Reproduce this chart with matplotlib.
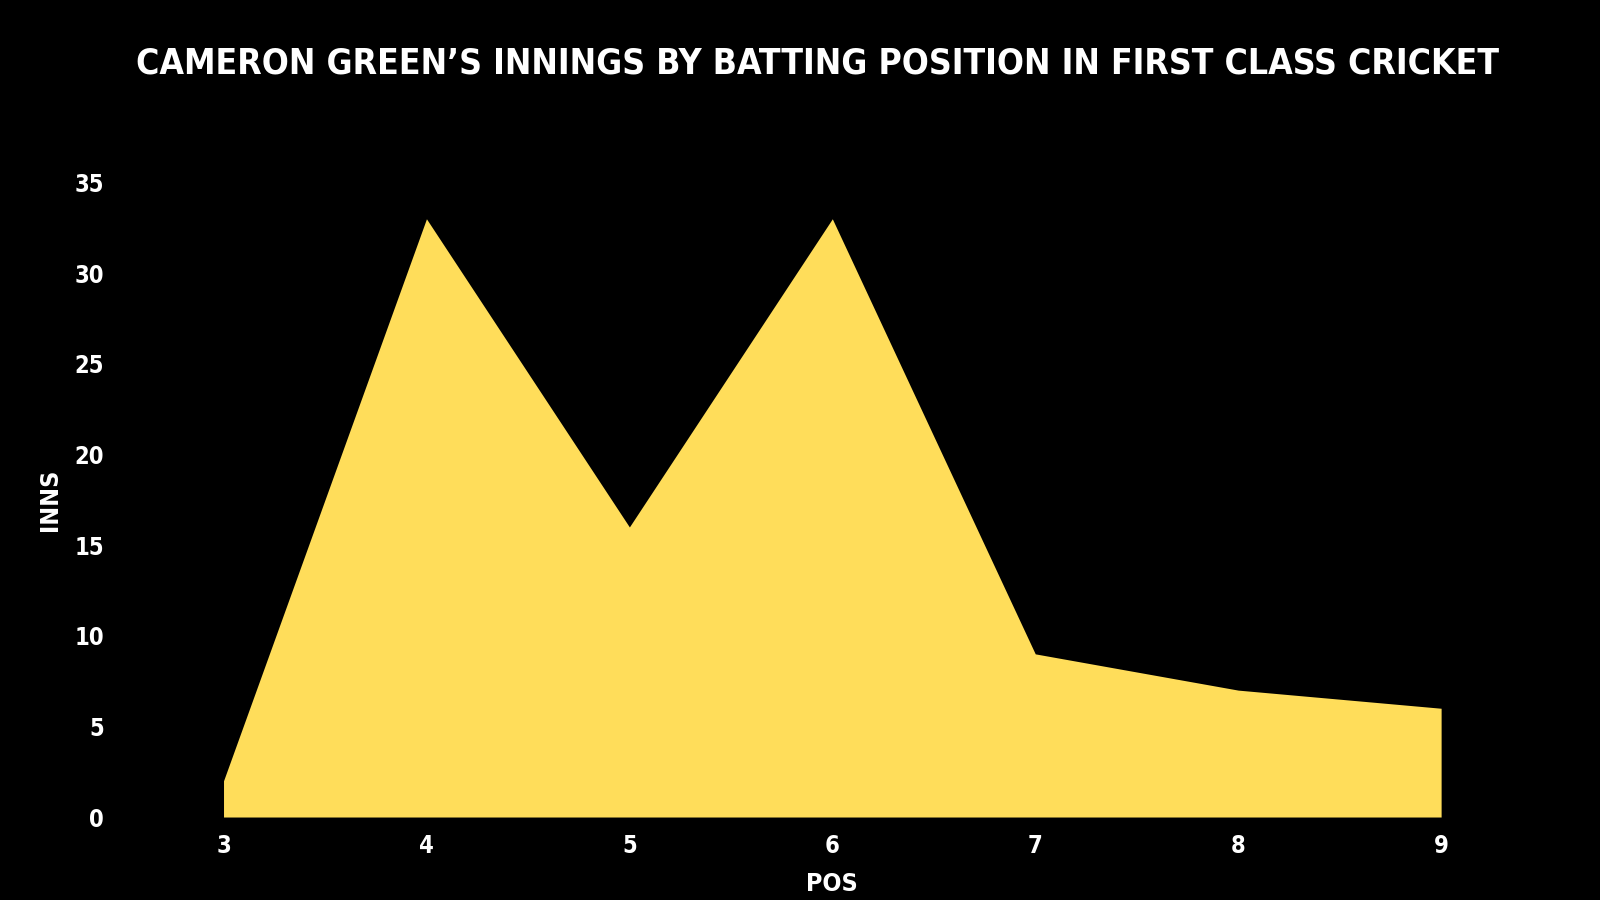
import matplotlib
matplotlib.use("Agg")
import matplotlib.pyplot as plt

# batting position vs innings
positions = [3, 4, 5, 6, 7, 8, 9]
innings = [2, 33, 16, 33, 9, 7, 6]
y_ticks = [0, 5, 10, 15, 20, 25, 30, 35]

title = "CAMERON GREEN\u2019S INNINGS BY BATTING POSITION IN FIRST CLASS CRICKET"
fill_colour = "#FFDD5A"

plt.rcParams['font.family'] = ['DejaVu Sans']
plt.rcParams['font.stretch'] = 'condensed'
plt.rcParams['font.weight'] = 'bold'

fig = plt.figure(figsize=(16, 9), dpi=100, facecolor='black')
ax = fig.add_axes([0.1397, 0.0922, 0.761, 0.705])
ax.set_facecolor('black')

ax.fill_between(positions, innings, 0, color=fill_colour, linewidth=0)

ax.set_xlim(positions[0], positions[-1])
ax.set_ylim(0, 35)
ax.set_xticks(positions)
ax.set_yticks(y_ticks)
ax.tick_params(colors='white', labelsize=17, length=0)
ax.tick_params(axis='x', pad=12)
ax.tick_params(axis='y', pad=86)
for lab in ax.get_xticklabels() + ax.get_yticklabels():
    lab.set_fontweight('bold')
for s in ax.spines.values():
    s.set_visible(False)

ax.set_xlabel('POS', color='white', fontsize=18, fontweight='bold', labelpad=10)
ax.set_ylabel('INNS', color='white', fontsize=18, fontweight='bold')
ax.yaxis.set_label_coords(-0.133, 0.5)

fig.text(0.511, 0.929, title, color='white', fontsize=25.5, fontweight='bold',
         ha='center', va='center')

fig.savefig('out.png', dpi=100, facecolor='black')
